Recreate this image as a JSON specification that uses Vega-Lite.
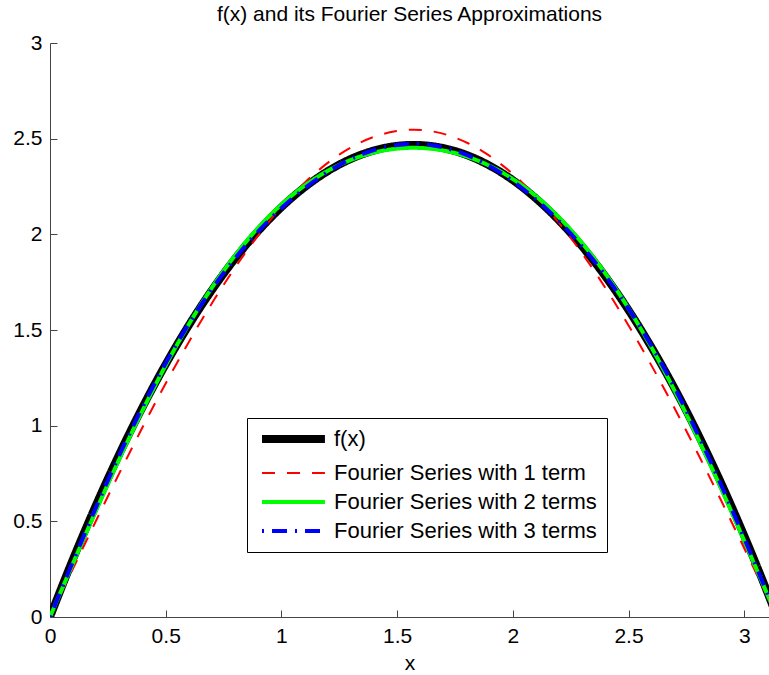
{
  "$schema": "https://vega.github.io/schema/vega-lite/v6.json",
  "autosize": {"type": "none"},
  "padding": {"left": 50, "top": 43, "right": 0, "bottom": 58},
  "width": 719,
  "height": 574,
  "background": "white",
  "title": {
    "text": "f(x) and its Fourier Series Approximations",
    "fontSize": 21,
    "font": "Liberation Sans",
    "fontWeight": "normal",
    "color": "#000000",
    "anchor": "middle",
    "offset": 7
  },
  "data": {
    "values": [
      {"x": 0, "f": 0, "s1": 0, "s2": 0, "s3": 0},
      {"x": 0.0785, "f": 0.2406, "s1": 0.1998, "s2": 0.2218, "s3": 0.2296},
      {"x": 0.1571, "f": 0.4688, "s1": 0.3984, "s2": 0.4412, "s3": 0.4556},
      {"x": 0.2356, "f": 0.6847, "s1": 0.5945, "s2": 0.6557, "s3": 0.6745},
      {"x": 0.3142, "f": 0.8883, "s1": 0.7869, "s2": 0.8632, "s3": 0.8836},
      {"x": 0.3927, "f": 1.0795, "s1": 0.9745, "s2": 1.0616, "s3": 1.0805},
      {"x": 0.4712, "f": 1.2584, "s1": 1.1561, "s2": 1.2492, "s3": 1.2636},
      {"x": 0.5498, "f": 1.4249, "s1": 1.3305, "s2": 1.4246, "s3": 1.4324},
      {"x": 0.6283, "f": 1.5791, "s1": 1.4968, "s2": 1.5865, "s3": 1.5865},
      {"x": 0.7069, "f": 1.7210, "s1": 1.6538, "s2": 1.7342, "s3": 1.7264},
      {"x": 0.7854, "f": 1.8506, "s1": 1.8006, "s2": 1.8673, "s3": 1.8529},
      {"x": 0.8639, "f": 1.9678, "s1": 1.9364, "s2": 1.9856, "s3": 1.9668},
      {"x": 0.9425, "f": 2.0726, "s1": 2.0601, "s2": 2.0893, "s3": 2.0689},
      {"x": 1.0210, "f": 2.1651, "s1": 2.1712, "s2": 2.1786, "s3": 2.1598},
      {"x": 1.0996, "f": 2.2453, "s1": 2.2689, "s2": 2.2542, "s3": 2.2398},
      {"x": 1.1781, "f": 2.3132, "s1": 2.3526, "s2": 2.3165, "s3": 2.3088},
      {"x": 1.2566, "f": 2.3687, "s1": 2.4218, "s2": 2.3664, "s3": 2.3664},
      {"x": 1.3352, "f": 2.4119, "s1": 2.4761, "s2": 2.4044, "s3": 2.4122},
      {"x": 1.4137, "f": 2.4427, "s1": 2.5151, "s2": 2.4311, "s3": 2.4455},
      {"x": 1.4923, "f": 2.4612, "s1": 2.5386, "s2": 2.4469, "s3": 2.4657},
      {"x": 1.5708, "f": 2.4674, "s1": 2.5465, "s2": 2.4522, "s3": 2.4725},
      {"x": 1.6493, "f": 2.4612, "s1": 2.5386, "s2": 2.4469, "s3": 2.4657},
      {"x": 1.7279, "f": 2.4427, "s1": 2.5151, "s2": 2.4311, "s3": 2.4455},
      {"x": 1.8064, "f": 2.4119, "s1": 2.4761, "s2": 2.4044, "s3": 2.4122},
      {"x": 1.8850, "f": 2.3687, "s1": 2.4218, "s2": 2.3664, "s3": 2.3664},
      {"x": 1.9635, "f": 2.3132, "s1": 2.3526, "s2": 2.3165, "s3": 2.3088},
      {"x": 2.0420, "f": 2.2453, "s1": 2.2689, "s2": 2.2542, "s3": 2.2398},
      {"x": 2.1206, "f": 2.1651, "s1": 2.1712, "s2": 2.1786, "s3": 2.1598},
      {"x": 2.1991, "f": 2.0726, "s1": 2.0601, "s2": 2.0893, "s3": 2.0689},
      {"x": 2.2777, "f": 1.9678, "s1": 1.9364, "s2": 1.9856, "s3": 1.9668},
      {"x": 2.3562, "f": 1.8506, "s1": 1.8006, "s2": 1.8673, "s3": 1.8529},
      {"x": 2.4347, "f": 1.7210, "s1": 1.6538, "s2": 1.7342, "s3": 1.7264},
      {"x": 2.5133, "f": 1.5791, "s1": 1.4968, "s2": 1.5865, "s3": 1.5865},
      {"x": 2.5918, "f": 1.4249, "s1": 1.3305, "s2": 1.4246, "s3": 1.4324},
      {"x": 2.6704, "f": 1.2584, "s1": 1.1561, "s2": 1.2492, "s3": 1.2636},
      {"x": 2.7489, "f": 1.0795, "s1": 0.9745, "s2": 1.0616, "s3": 1.0805},
      {"x": 2.8274, "f": 0.8883, "s1": 0.7869, "s2": 0.8632, "s3": 0.8836},
      {"x": 2.9060, "f": 0.6847, "s1": 0.5945, "s2": 0.6557, "s3": 0.6745},
      {"x": 2.9845, "f": 0.4688, "s1": 0.3984, "s2": 0.4412, "s3": 0.4556},
      {"x": 3.0631, "f": 0.2406, "s1": 0.1998, "s2": 0.2218, "s3": 0.2296},
      {"x": 3.1416, "f": 0, "s1": 0, "s2": 0, "s3": 0}
    ]
  },
  "transform": [
    {"fold": ["f", "s1", "s2", "s3"], "as": ["series", "y"]}
  ],
  "mark": {"type": "line", "clip": true, "strokeCap": "butt", "strokeJoin": "round", "interpolate": "monotone"},
  "encoding": {
    "x": {
      "field": "x",
      "type": "quantitative",
      "scale": {"domain": [0, 3.107], "nice": false, "zero": false},
      "axis": {"values": [0, 0.5, 1, 1.5, 2, 2.5, 3], "format": "~g", "title": "x"}
    },
    "y": {
      "field": "y",
      "type": "quantitative",
      "scale": {"domain": [0, 3], "nice": false},
      "axis": {"values": [0, 0.5, 1, 1.5, 2, 2.5, 3], "format": "~g", "title": null}
    },
    "color": {
      "field": "series",
      "type": "nominal",
      "scale": {"domain": ["f", "s1", "s2", "s3"], "range": ["#000000", "#ff0000", "#00ff00", "#0000ff"]},
      "legend": {
        "title": null,
        "labelExpr": "datum.value === 'f' ? 'f(x)' : datum.value === 's1' ? 'Fourier Series with 1 term' : datum.value === 's2' ? 'Fourier Series with 2 terms' : 'Fourier Series with 3 terms'",
        "encode": {
          "symbols": {"update": {"strokeWidth": {"signal": "datum.value === 'f' ? 8 : datum.value === 's1' ? 2 : 4"}}}
        }
      }
    },
    "strokeDash": {
      "field": "series",
      "type": "nominal",
      "scale": {"domain": ["f", "s1", "s2", "s3"], "range": [[1, 0], [13, 12], [1, 0], [2, 8, 15, 8]]},
      "legend": {
        "title": null,
        "labelExpr": "datum.value === 'f' ? 'f(x)' : datum.value === 's1' ? 'Fourier Series with 1 term' : datum.value === 's2' ? 'Fourier Series with 2 terms' : 'Fourier Series with 3 terms'"
      }
    },
    "strokeWidth": {
      "condition": [
        {"test": "datum.series === 'f'", "value": 8},
        {"test": "datum.series === 's1'", "value": 2}
      ],
      "value": 4
    }
  },
  "config": {
    "view": {"stroke": null},
    "font": "Liberation Sans",
    "axis": {
      "domainColor": "#444444",
      "tickColor": "#444444",
      "domainWidth": 1,
      "tickWidth": 1,
      "tickSize": -7,
      "labelPadding": 15,
      "labelFontSize": 21,
      "labelFont": "Liberation Sans",
      "labelColor": "#000000",
      "labelFlush": false,
      "labelOverlap": false,
      "grid": false,
      "titleFont": "Liberation Sans",
      "titleFontSize": 21,
      "titleFontWeight": "normal",
      "titleColor": "#000000",
      "titlePadding": 6
    },
    "legend": {
      "orient": "none",
      "legendX": 197,
      "legendY": 375,
      "strokeColor": "#000000",
      "fillColor": "#ffffff",
      "padding": 10,
      "cornerRadius": 0,
      "symbolType": "M0,0H12",
      "symbolSize": 110,
      "symbolOffset": -6,
      "symbolStrokeWidth": 4,
      "rowPadding": 7,
      "labelFontSize": 22,
      "labelFont": "Liberation Sans",
      "labelColor": "#000000",
      "labelOffset": 61,
      "labelLimit": 400
    }
  }
}
